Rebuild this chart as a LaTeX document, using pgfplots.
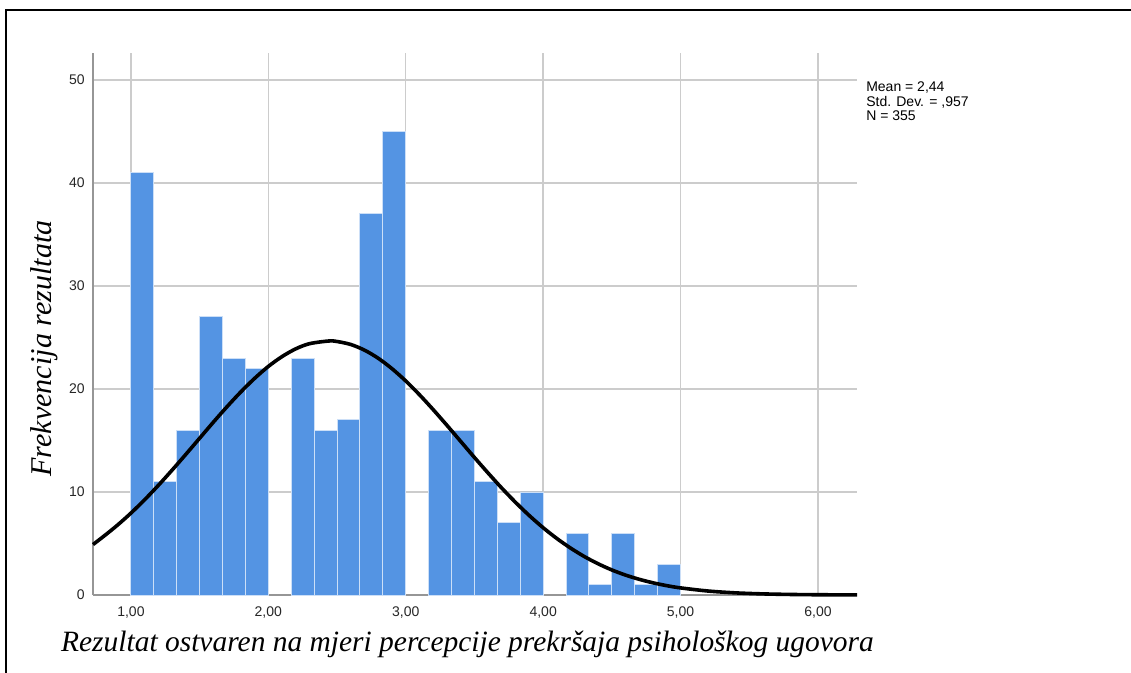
\documentclass[border=0pt]{standalone}
\usepackage{fontspec}
\setmainfont{Liberation Serif}
\setsansfont{Liberation Sans}
\usepackage{pgfplots}
\pgfplotsset{compat=1.18}
\definecolor{barblue}{RGB}{84,148,227}
\definecolor{gridgray}{RGB}{204,204,204}
\definecolor{axgray}{RGB}{150,150,150}
\begin{document}
\begin{tikzpicture}
\useasboundingbox (0,0) rectangle (848.25pt,504.75pt);
% frame of the figure (only top and left edges visible)
\draw[line width=1.6pt] (4.35pt,-2pt) -- (4.35pt,497pt) -- (852pt,497pt);
\begin{axis}[
    at={(69.75pt,58.5pt)}, anchor=south west,
    scale only axis, width=573pt, height=406.5pt,
    xmin=0.724, xmax=6.284, ymin=0, ymax=52.62,
    axis x line=bottom, axis y line=left,
    axis line style={-, draw=axgray, line width=1.3pt},
    xtick={1,2,3,4,5,6},
    xticklabels={{1,00},{2,00},{3,00},{4,00},{5,00},{6,00}},
    ytick={0,10,20,30,40,50},
    major tick length=0pt,
    grid=major,
    major grid style={draw=gridgray, line width=1.1pt},
    tick label style={font=\sffamily\fontsize{10.5}{12}\selectfont, text=black!85},
    /pgf/number format/assume math mode=true,
    xticklabel style={anchor=north, inner sep=0pt, yshift=-8.6pt},
    yticklabel style={anchor=east, inner sep=0pt, xshift=-6pt},
    clip=false,
]
% histogram (bin width 1/6)
\addplot[ybar interval, fill=barblue, draw=barblue!30, line width=0.7pt] coordinates {
    (1,41) (1.1667,11) (1.3333,16) (1.5,27) (1.6667,23) (1.8333,22) (2,0)
};
\addplot[ybar interval, fill=barblue, draw=barblue!30, line width=0.7pt] coordinates {
    (2.1667,23) (2.3333,16) (2.5,17) (2.6667,37) (2.8333,45) (3,0)
};
\addplot[ybar interval, fill=barblue, draw=barblue!30, line width=0.7pt] coordinates {
    (3.1667,16) (3.3333,16) (3.5,11) (3.6667,7) (3.8333,10) (4,0)
};
\addplot[ybar interval, fill=barblue, draw=barblue!30, line width=0.7pt] coordinates {
    (4.1667,6) (4.3333,1) (4.5,6) (4.6667,1) (4.8333,3) (5,0)
};
% normal curve
\addplot[black, line width=2.7pt, smooth] coordinates {
    (0.724,4.90) (0.8,5.68) (0.9,6.76) (1.0,7.95) (1.1,9.25) (1.2,10.65)
    (1.3,12.13) (1.4,13.66) (1.5,15.22) (1.6,16.78) (1.7,18.29) (1.8,19.72)
    (1.9,21.03) (2.0,22.19) (2.1,23.15) (2.2,23.90) (2.3,24.40) (2.44,24.66)
    (2.5,24.61) (2.6,24.32) (2.7,23.77) (2.8,22.98) (2.9,21.97) (3.0,20.78)
    (3.1,19.44) (3.2,17.99) (3.3,16.47) (3.4,14.91) (3.5,13.35) (3.6,11.83)
    (3.7,10.36) (3.8,8.98) (3.9,7.70) (4.0,6.53) (4.1,5.48) (4.2,4.55)
    (4.3,3.73) (4.4,3.03) (4.5,2.43) (4.6,1.93) (4.7,1.52) (4.8,1.18)
    (4.9,0.905) (5.0,0.689) (5.2,0.385) (5.4,0.206) (5.6,0.106) (5.8,0.052)
    (6.0,0.024) (6.284,0.008)
};
\end{axis}
\node[anchor=north west, inner sep=0pt, align=left,
      font=\sffamily\fontsize{10.5}{10.9}\selectfont] at (649.5pt,443.5pt)
      {Mean = 2,44\\Std. Dev. = ,957\\N = 355};
\node[anchor=base, font=\itshape\fontsize{22.1}{26}\selectfont] at (350.6pt,15.75pt)
      {Rezultat ostvaren na mjeri percepcije prekršaja psihološkog ugovora};
\node[anchor=base, rotate=90, font=\itshape\fontsize{22.6}{26}\selectfont] at (38.5pt,243.4pt)
      {Frekvencija rezultata};
\end{tikzpicture}
\end{document}
